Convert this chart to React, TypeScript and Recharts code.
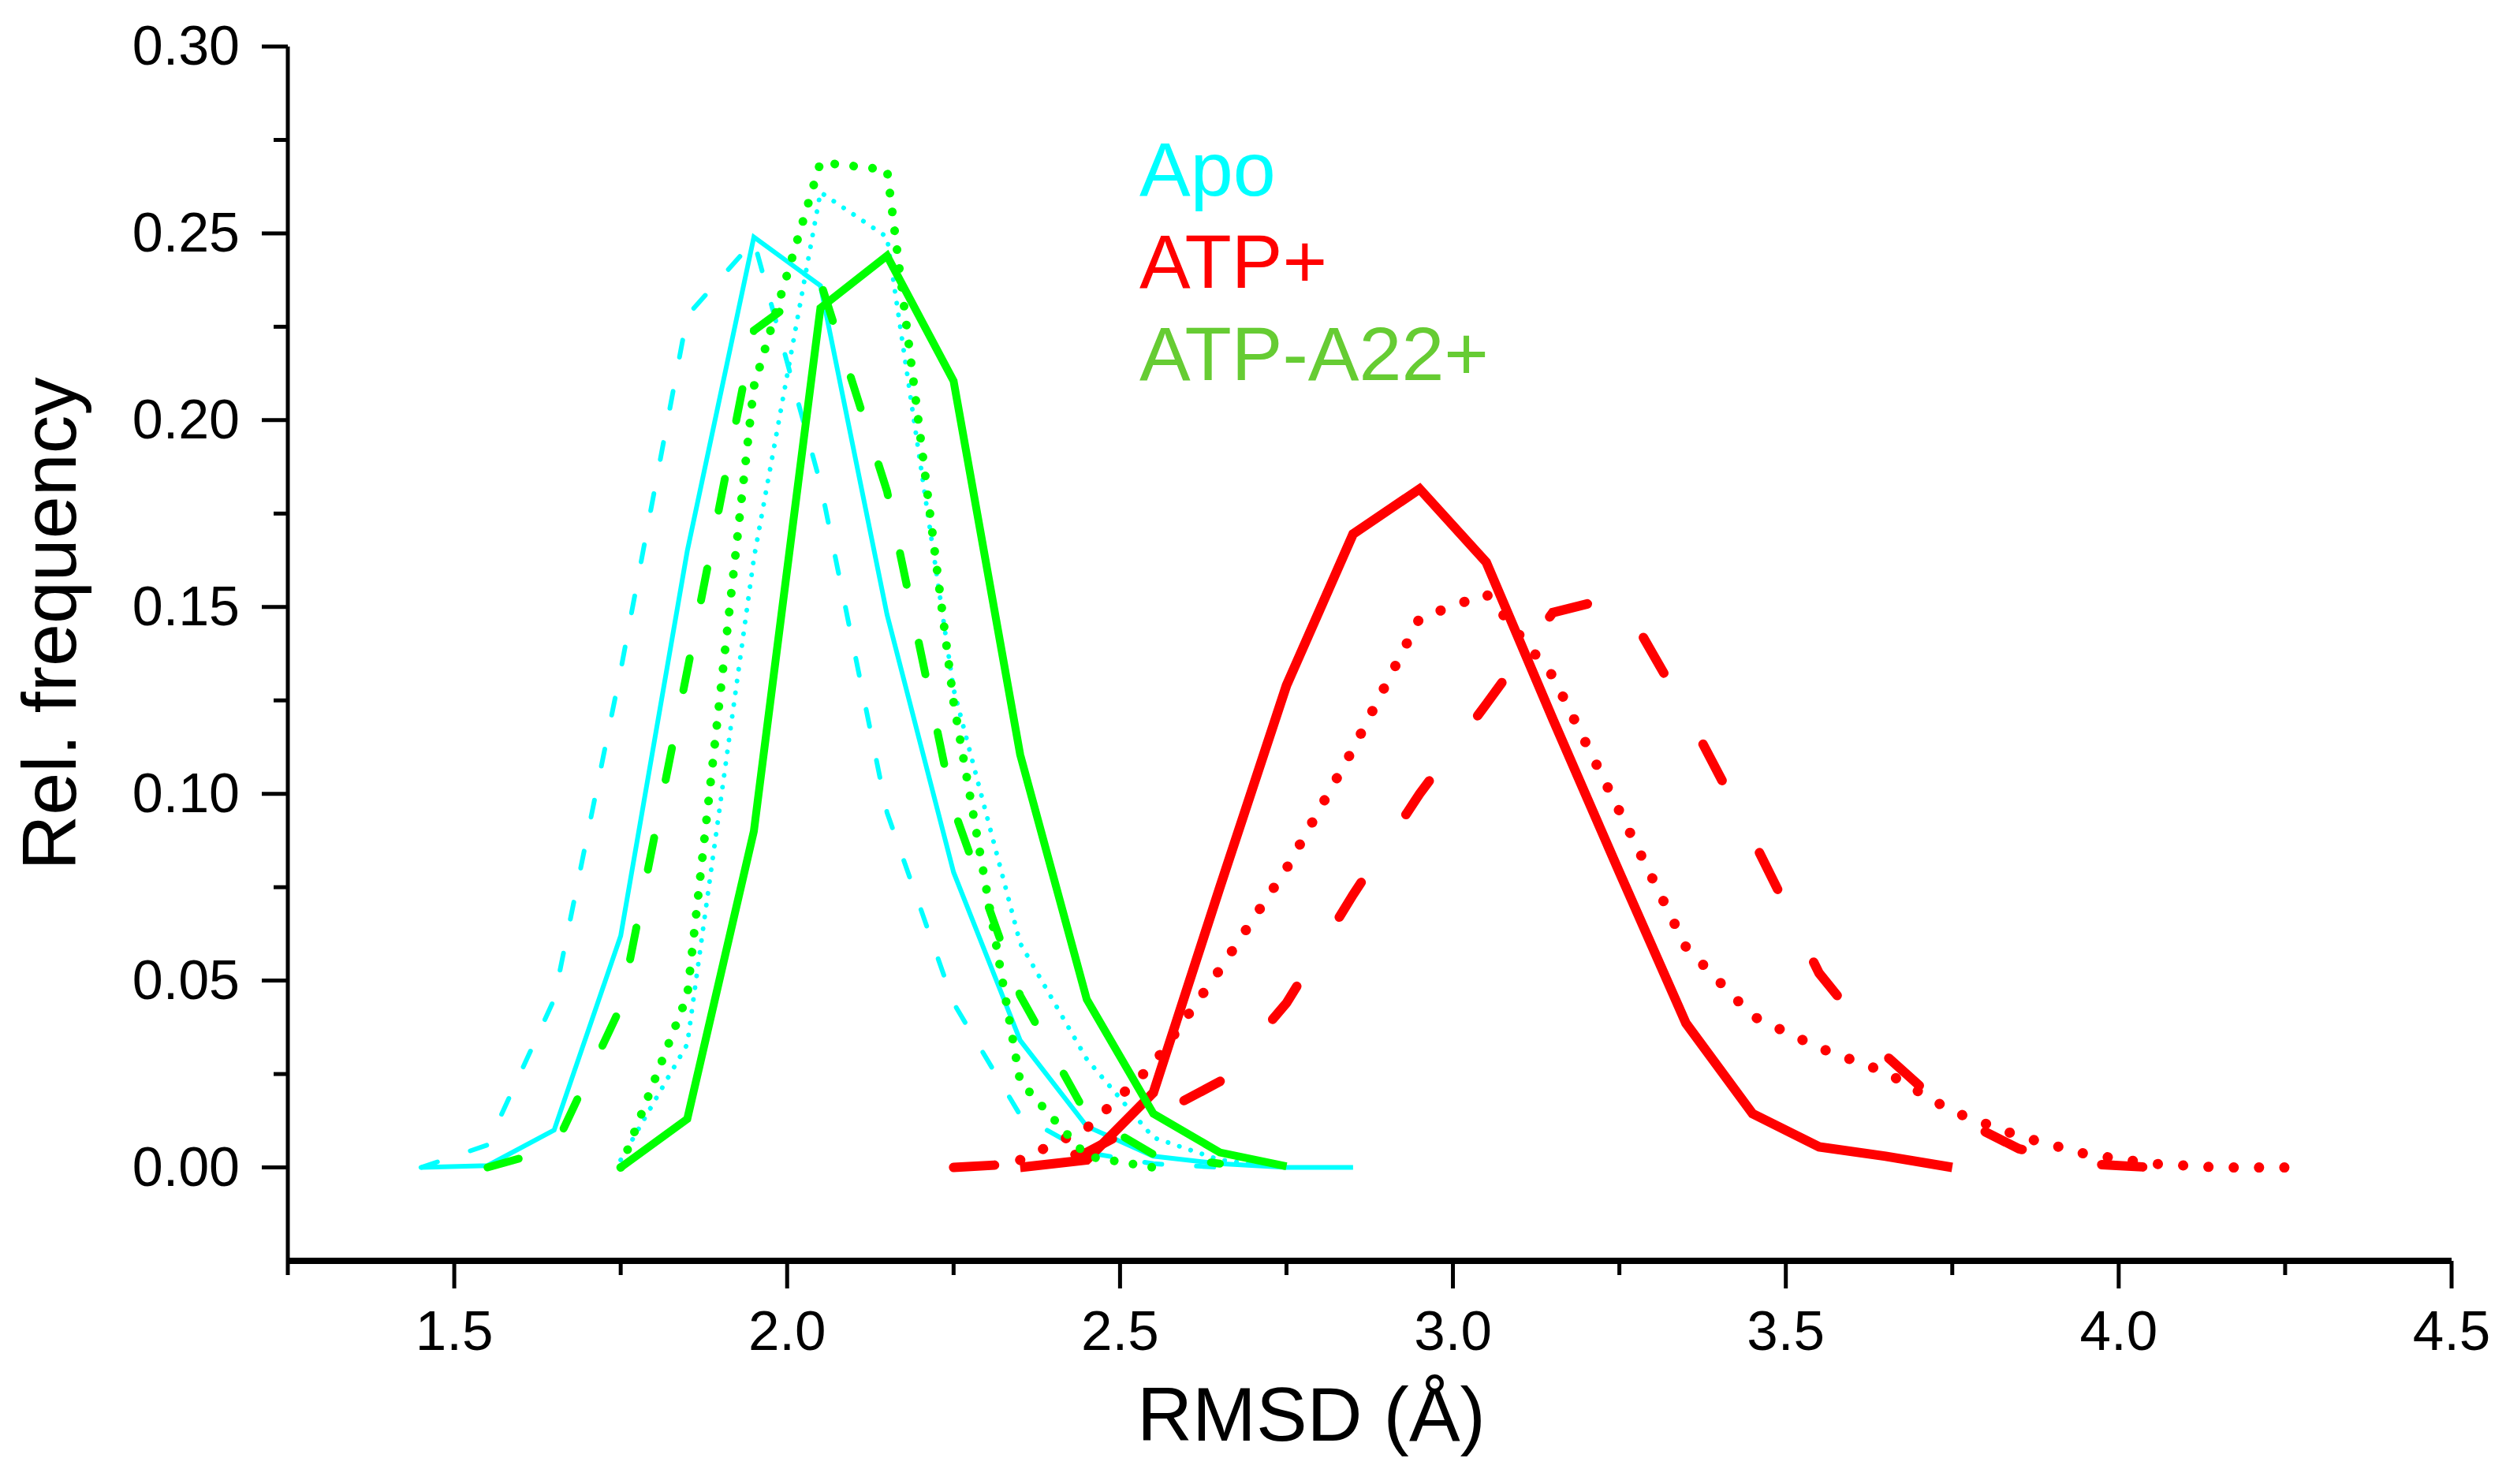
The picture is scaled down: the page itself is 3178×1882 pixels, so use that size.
import { LineChart, Line, XAxis, YAxis } from 'recharts';

const _ = null;

// bin centres of the RMSD histogram (Å)
const RMSD_BINS = [
  1.45, 1.55, 1.65, 1.75, 1.85, 1.95, 2.05, 2.15, 2.25, 2.35,
  2.45, 2.55, 2.65, 2.75, 2.85, 2.95, 3.05, 3.15, 3.25, 3.35,
  3.45, 3.55, 3.65, 3.75, 3.85, 3.95, 4.05, 4.15, 4.25,
];

// Apo (cyan)
const APO_SOLID = [0, 0.0005, 0.01, 0.062, 0.165, 0.249, 0.236, 0.148, 0.079, 0.034, 0.011, 0.003, 0.001, 0, 0];
const APO_DASH = [0, 0.006, 0.045, 0.133, 0.228, 0.248, 0.183, 0.095, 0.044, 0.014, 0.004, 0.001, 0];
const APO_DOT = [_, _, _, 0.002, 0.033, 0.163, 0.261, 0.249, 0.128, 0.06, 0.029, 0.008, 0.002, 0];

// ATP+ (red)
const ATP_SOLID = [_, _, _, _, _, _, _, _, _, 0, 0.002, 0.02, 0.075, 0.129, 0.1695, 0.1816, 0.162, 0.12, 0.079, 0.0386, 0.0144, 0.0055, 0.003, 0];
const ATP_DASH = [_, _, _, _, _, _, _, _, 0, 0.001, 0.004, 0.0135, 0.023, 0.044, 0.073, 0.1, 0.124, 0.1485, 0.153, 0.122, 0.088, 0.052, 0.03, 0.014, 0.005, 0.001, 0];
const ATP_DOT = [_, _, _, _, _, _, _, _, _, 0.002, 0.0105, 0.0276, 0.053, 0.08, 0.112, 0.147, 0.1535, 0.1315, 0.0954, 0.059, 0.0405, 0.032, 0.0255, 0.015, 0.0084, 0.0036, 0.001, 0, 0];

// ATP-A22+ (green)
const A22_SOLID = [_, _, _, 0, 0.013, 0.09, 0.23, 0.244, 0.2105, 0.1105, 0.045, 0.0144, 0.004, 0.0003];
const A22_DASH = [_, 0, 0.005, 0.043, 0.133, 0.224, 0.237, 0.181, 0.096, 0.046, 0.014, 0.0035, 0.001];
const A22_DOT = [_, _, _, 0, 0.046, 0.209, 0.269, 0.267, 0.1245, 0.023, 0.003, 0];

const X_TICKS = [1.25, 1.5, 1.75, 2.0, 2.25, 2.5, 2.75, 3.0, 3.25, 3.5, 3.75, 4.0, 4.25, 4.5];
const Y_TICKS = [0, 0.025, 0.05, 0.075, 0.1, 0.125, 0.15, 0.175, 0.2, 0.225, 0.25, 0.275, 0.3];

const LEGEND = [
  { label: 'Apo', color: '#00ffff' },
  { label: 'ATP+', color: '#ff0000' },
  { label: 'ATP-A22+', color: '#66cc33' },
];

const FONT = '"Liberation Sans", Arial, sans-serif';
const CYAN = '#00ffff';
const RED = '#ff0000';
const GREEN = '#00ff00';

const rows = RMSD_BINS.map((x, i) => ({
  x,
  apoSolid: APO_SOLID[i] ?? null,
  apoDash: APO_DASH[i] ?? null,
  apoDot: APO_DOT[i] ?? null,
  atpSolid: ATP_SOLID[i] ?? null,
  atpDash: ATP_DASH[i] ?? null,
  atpDot: ATP_DOT[i] ?? null,
  a22Solid: A22_SOLID[i] ?? null,
  a22Dash: A22_DASH[i] ?? null,
  a22Dot: A22_DOT[i] ?? null,
}));

const isMajor = (v: number, step: number) => Math.abs(v / step - Math.round(v / step)) < 1e-6;

function XTick({ x, y, payload }: any) {
  const major = isMajor(payload.value, 0.5);
  return (
    <g>
      <line x1={x} x2={x} y1={y} y2={y + (major ? 35 : 18)} stroke="#000" strokeWidth={5} />
      {major && (
        <text x={x} y={y + 113} textAnchor="middle" fontSize={71} fontFamily={FONT} fill="#000">
          {payload.value.toFixed(1)}
        </text>
      )}
    </g>
  );
}

function YTick({ x, y, payload }: any) {
  const major = isMajor(payload.value, 0.05);
  return (
    <g>
      <line x1={x} x2={x - (major ? 33 : 18)} y1={y} y2={y} stroke="#000" strokeWidth={5} />
      {major && (
        <text x={x - 61} y={y + 23} textAnchor="end" fontSize={70} fontFamily={FONT} fill="#000">
          {payload.value.toFixed(2)}
        </text>
      )}
    </g>
  );
}

export default function App() {
  return (
    <div style={{ position: 'absolute', left: 0, top: 0, width: 3178, height: 1882, background: '#fff' }}>
      <LineChart
        width={3178}
        height={1882}
        data={rows}
        margin={{ top: 59, right: 69, bottom: 163, left: 245 }}
      >
        <XAxis
          dataKey="x"
          type="number"
          domain={[1.25, 4.5]}
          ticks={X_TICKS}
          interval={0}
          height={120}
          tickSize={0}
          tickMargin={0}
          tickLine={false}
          axisLine={{ stroke: '#000', strokeWidth: 8 }}
          tick={XTick}
        />
        <YAxis
          type="number"
          domain={[-0.025, 0.3]}
          ticks={Y_TICKS}
          interval={0}
          width={120}
          tickSize={0}
          tickMargin={0}
          tickLine={false}
          axisLine={{ stroke: '#000', strokeWidth: 5 }}
          tick={YTick}
        />

        <Line dataKey="apoSolid" stroke={CYAN} strokeWidth={6} dot={false} activeDot={false} isAnimationActive={false} />
        <Line dataKey="apoDash" stroke={CYAN} strokeWidth={6} strokeDasharray="22 44" strokeLinecap="round" dot={false} activeDot={false} isAnimationActive={false} />
        <Line dataKey="apoDot" stroke={CYAN} strokeWidth={6} strokeDasharray="0.1 15" strokeLinecap="round" dot={false} activeDot={false} isAnimationActive={false} />

        <Line dataKey="atpSolid" stroke={RED} strokeWidth={12} dot={false} activeDot={false} isAnimationActive={false} />
        <Line dataKey="atpDash" stroke={RED} strokeWidth={12} strokeDasharray="52 103" strokeLinecap="round" dot={false} activeDot={false} isAnimationActive={false} />
        <Line dataKey="atpDot" stroke={RED} strokeWidth={13} strokeDasharray="0.1 32" strokeLinecap="round" dot={false} activeDot={false} isAnimationActive={false} />

        <Line dataKey="a22Solid" stroke={GREEN} strokeWidth={10} dot={false} activeDot={false} isAnimationActive={false} />
        <Line dataKey="a22Dash" stroke={GREEN} strokeWidth={10} strokeDasharray="41 75" strokeLinecap="round" dot={false} activeDot={false} isAnimationActive={false} />
        <Line dataKey="a22Dot" stroke={GREEN} strokeWidth={11} strokeDasharray="0.1 24" strokeLinecap="round" dot={false} activeDot={false} isAnimationActive={false} />
      </LineChart>

      {/* axis titles and the text-only legend */}
      <svg
        width={3178}
        height={1882}
        style={{ position: 'absolute', left: 0, top: 0, pointerEvents: 'none' }}
        fontFamily={FONT}
      >
        <text x={1663} y={1827} textAnchor="middle" fontSize={97} fill="#000">
          RMSD (Å)
        </text>
        <text x={96} y={791} transform="rotate(-90 96 791)" textAnchor="middle" fontSize={97} fill="#000">
          Rel. frequency
        </text>
        {LEGEND.map((item, i) => (
          <text key={item.label} x={1445} y={248 + i * 117} fontSize={97} fill={item.color}>
            {item.label}
          </text>
        ))}
      </svg>
    </div>
  );
}
